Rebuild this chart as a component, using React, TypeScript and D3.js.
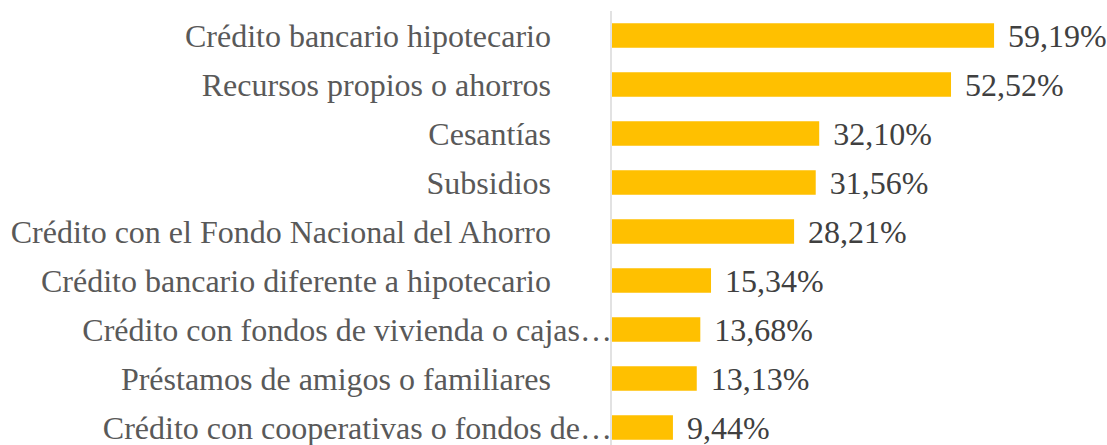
import React from 'react';
import * as d3 from 'd3';

const WIDTH = 1107;
const HEIGHT = 445;
const AXIS_X = 612;
const LABEL_END = 551;
const PLOT_TOP = 11;
const STEP = 49;
const PX_PER_PCT = 6.455;

const CATEGORIES = [
    "Crédito bancario hipotecario",
    "Recursos propios o ahorros",
    "Cesantías",
    "Subsidios",
    "Crédito con el Fondo Nacional del Ahorro",
    "Crédito bancario diferente a hipotecario",
    "Crédito con fondos de vivienda o cajas…",
    "Préstamos de amigos o familiares",
    "Crédito con cooperativas o fondos de…",
];
const VALUES = [59.19, 52.52, 32.10, 31.56, 28.21, 15.34, 13.68, 13.13, 9.44];
const TRUNCATED = [false, false, false, false, false, false, true, false, true];

const fmt = (v: number) => v.toFixed(2).replace('.', ',') + '%';

export default function App() {
    const y = d3.scaleBand<string>()
        .domain(CATEGORIES)
        .range([PLOT_TOP, PLOT_TOP + STEP * CATEGORIES.length])
        .paddingInner(0.5)
        .paddingOuter(0.25);

    const x = d3.scaleLinear()
        .domain([0, 100])
        .range([AXIS_X, AXIS_X + PX_PER_PCT * 100]);

    return (
        <svg width={WIDTH} height={HEIGHT}
            style={{ position: "absolute", left: 0, top: 0, background: "#fff" }}
            fontFamily="'Liberation Serif', 'Times New Roman', serif">
            {CATEGORIES.map((c, i) => {
                const yc = (y(c) as number) + y.bandwidth() / 2;
                return (
                    <g key={c}>
                        <rect x={x(0)} y={y(c)} width={x(VALUES[i]) - x(0)} height={y.bandwidth()} fill="#FFC000" />
                        <text x={TRUNCATED[i] ? AXIS_X : LABEL_END} y={yc} dy="0.35em" textAnchor="end"
                            fontSize={32} fill="#595959">{c}</text>
                        <text x={x(VALUES[i]) + 14} y={yc} dy="0.35em" fontSize={32} fill="#404040">{fmt(VALUES[i])}</text>
                    </g>
                );
            })}
            <line x1={AXIS_X - 1} x2={AXIS_X - 1} y1={PLOT_TOP} y2={HEIGHT} stroke="#D9D9D9" strokeWidth={1.5} />
        </svg>
    );
}
